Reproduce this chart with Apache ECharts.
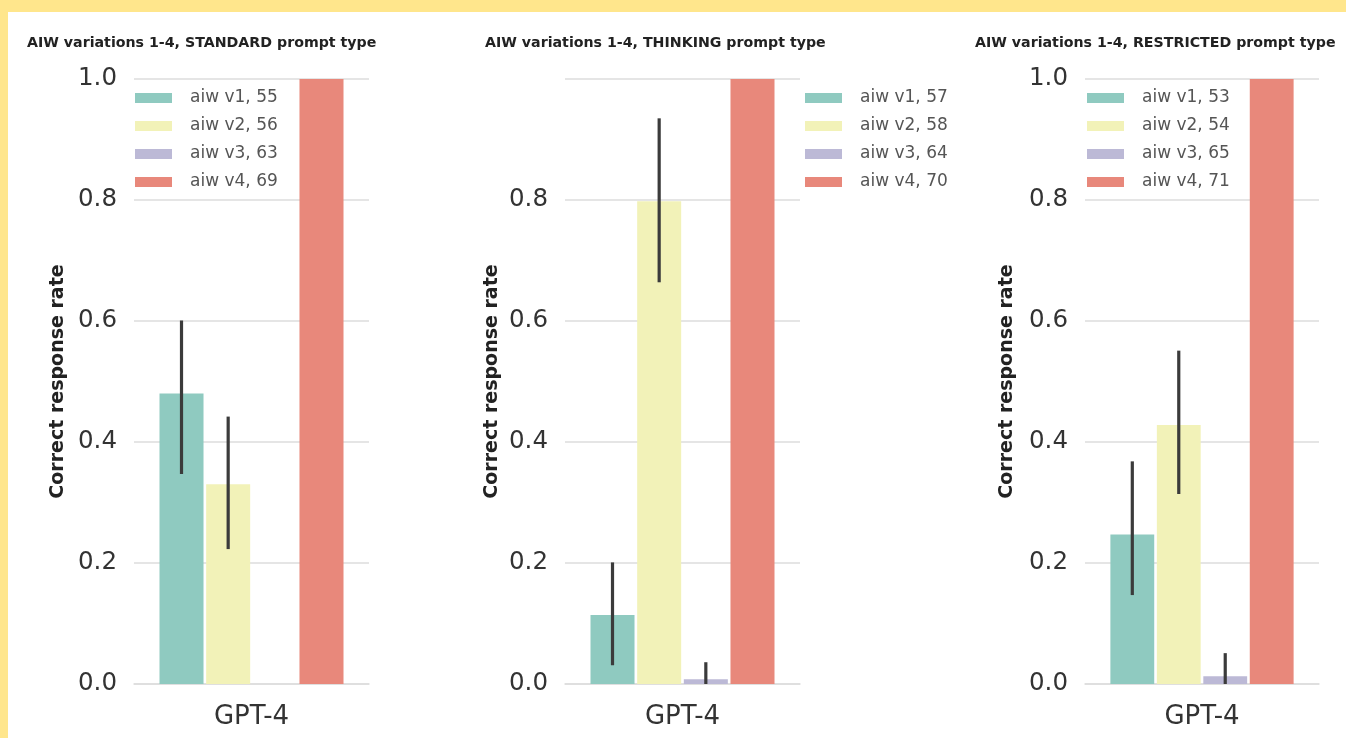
<!DOCTYPE html>
<html>
<head>
<meta charset="utf-8">
<script src="https://cdn.jsdelivr.net/npm/echarts@6/dist/echarts.min.js"></script>
<style>
  html, body { margin: 0; padding: 0; background: #fff; }
  #main { width: 1346px; height: 738px; }
</style>
</head>
<body>
<div id="main"></div>
<script>
// data
var categories = ['GPT-4'];
var yTicks = [0, 0.2, 0.4, 0.6, 0.8, 1.0];

var standardNames = ['aiw v1, 55', 'aiw v2, 56', 'aiw v3, 63', 'aiw v4, 69'];
var standardRates = [0.48, 0.33, 0, 1.0];
var standardLow = [0.347, 0.223, null, null];
var standardHigh = [0.601, 0.442, null, null];

var thinkingNames = ['aiw v1, 57', 'aiw v2, 58', 'aiw v3, 64', 'aiw v4, 70'];
var thinkingRates = [0.114, 0.798, 0.008, 1.0];
var thinkingLow = [0.031, 0.664, 0, null];
var thinkingHigh = [0.201, 0.935, 0.036, null];

var restrictedNames = ['aiw v1, 53', 'aiw v2, 54', 'aiw v3, 65', 'aiw v4, 71'];
var restrictedRates = [0.247, 0.428, 0.013, 1.0];
var restrictedLow = [0.147, 0.314, 0, null];
var restrictedHigh = [0.368, 0.551, 0.051, null];

var colors = ['#8fcac0', '#f2f2b8', '#bcb9d6', '#e8887b'];
var CAT_GAP = 0.217, BAR_GAP = 0.06;

var panels = [
  {title: 'AIW variations 1-4, STANDARD prompt type', names: standardNames, rates: standardRates,
   low: standardLow, high: standardHigh, left: 134, width: 235, titleLeft: 27, legendLeft: 135, nameGap: 66, showTop: true},
  {title: 'AIW variations 1-4, THINKING prompt type', names: thinkingNames, rates: thinkingRates,
   low: thinkingLow, high: thinkingHigh, left: 565, width: 235, titleLeft: 485, legendLeft: 805, nameGap: 63, showTop: false},
  {title: 'AIW variations 1-4, RESTRICTED prompt type', names: restrictedNames, rates: restrictedRates,
   low: restrictedLow, high: restrictedHigh, left: 1085, width: 234, titleLeft: 975, legendLeft: 1087, nameGap: 68, showTop: true}
];

function errRender(params, api) {
  var k = api.value(3);
  var lo = api.coord([api.value(0), api.value(1)]);
  var hi = api.coord([api.value(0), api.value(2)]);
  var band = api.size([1, 0])[0];
  var usable = band * (1 - CAT_GAP);
  var bw = usable / (4 + 3 * BAR_GAP);
  var x = lo[0] - usable / 2 + k * bw * (1 + BAR_GAP) + bw / 2;
  return {
    type: 'line',
    shape: {x1: x, y1: lo[1], x2: x, y2: hi[1]},
    style: {stroke: '#3b3b3b', lineWidth: 3.2}
  };
}

var option = {
  backgroundColor: '#fff',
  animation: false,
  textStyle: {fontFamily: 'DejaVu Sans'},
  graphic: [
    {type: 'rect', shape: {x: 0, y: 0, width: 1346, height: 12}, style: {fill: '#ffe68c'}, z: 100},
    {type: 'rect', shape: {x: 0, y: 0, width: 8, height: 738}, style: {fill: '#ffe68c'}, z: 100}
  ],
  title: [], legend: [], grid: [], xAxis: [], yAxis: [], series: []
};

panels.forEach(function (p, i) {
  option.title.push({
    text: p.title, left: p.titleLeft, top: 36, padding: 0,
    textStyle: {fontSize: 14.2, fontWeight: 'bold', color: '#222', fontFamily: 'DejaVu Sans'}
  });
  option.legend.push({
    data: p.names, orient: 'vertical', left: p.legendLeft, top: 89, padding: 0,
    itemWidth: 37, itemHeight: 10, itemGap: 10, icon: 'rect',
    selectedMode: false,
    textStyle: {fontSize: 17, lineHeight: 18, color: '#555', padding: [0, 0, 0, 13], fontFamily: 'DejaVu Sans'}
  });
  option.grid.push({left: p.left, width: p.width, top: 79, height: 605});
  option.xAxis.push({
    type: 'category', gridIndex: i, data: categories,
    axisLine: {lineStyle: {color: '#dddddd', width: 1.5}},
    axisTick: {show: false},
    axisLabel: {fontSize: 26, color: '#333', margin: 20}
  });
  option.yAxis.push({
    type: 'value', gridIndex: i, min: 0, max: 1, interval: 0.2,
    name: 'Correct response rate', nameLocation: 'middle', nameGap: p.nameGap,
    nameTextStyle: {fontSize: 19, fontWeight: 'bold', color: '#222'},
    axisLine: {show: false}, axisTick: {show: false},
    splitLine: {lineStyle: {color: '#dddddd', width: 1.5}},
    axisLabel: {
      fontSize: 24.5, color: '#333', margin: 17,
      formatter: function (v) { return (v === 1 && !p.showTop) ? '' : v.toFixed(1); }
    }
  });
  p.names.forEach(function (n, k) {
    option.series.push({
      name: n, type: 'bar', xAxisIndex: i, yAxisIndex: i,
      data: [p.rates[k]],
      barCategoryGap: (CAT_GAP * 100) + '%', barGap: (BAR_GAP * 100) + '%',
      itemStyle: {color: colors[k]}
    });
  });
  var errData = [];
  p.low.forEach(function (lo, k) {
    if (lo !== null) errData.push([0, lo, p.high[k], k]);
  });
  option.series.push({
    type: 'custom', xAxisIndex: i, yAxisIndex: i, z: 5,
    renderItem: errRender, data: errData
  });
});

var chart = echarts.init(document.getElementById('main'));
chart.setOption(option);
</script>
</body>
</html>
